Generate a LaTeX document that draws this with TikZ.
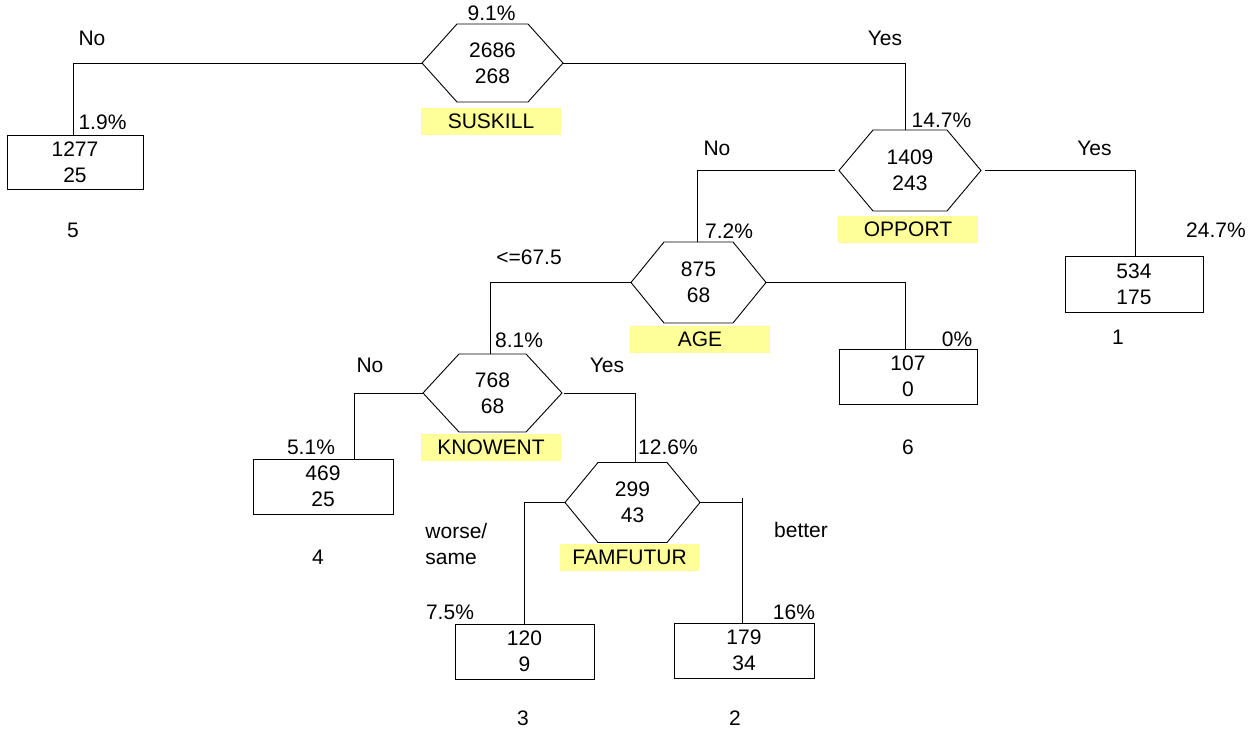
\documentclass[tikz,border=0pt]{standalone}
\usepackage{fontspec}
\setmainfont{Liberation Sans}
\definecolor{labelyellow}{RGB}{255,255,153}
\begin{document}
\begin{tikzpicture}[x=1pt,y=-1pt,
  font=\fontsize{21}{26}\selectfont,
  line width=0.9pt,
  hexnode/.style={inner sep=0pt,outer sep=0pt,align=center,minimum height=78pt},
  leafbox/.style={draw,rectangle,inner sep=0pt,outer sep=0pt,align=center,minimum width=138pt,minimum height=55pt},
  varlabel/.style={fill=labelyellow,inner sep=0pt,minimum width=140pt,minimum height=27pt},
  txt/.style={inner sep=0pt}]
\useasboundingbox (0,0) rectangle (1255,731);

% decision nodes (hexagons)
\node[hexnode,minimum width=141pt] (suskill) at (492.5,63) {2686\\268};
\node[hexnode,minimum width=142pt,minimum height=81pt] (opport) at (910,170.5) {1409\\243};
\node[hexnode,minimum width=135pt,minimum height=81pt] (age) at (698.5,282.5) {875\\68};
\node[hexnode,minimum width=139pt] (knowent) at (492.5,393) {768\\68};
\node[hexnode,minimum width=135pt,minimum height=80pt] (famfutur) at (632.5,502.5) {299\\43};
\foreach \n/\i in {suskill/35,opport/34,age/33,knowent/36,famfutur/33}
  \draw (\n.west) -- ([xshift=\i pt]\n.north west) -- ([xshift=-\i pt]\n.north east)
        -- (\n.east) -- ([xshift=-\i pt]\n.south east) -- ([xshift=\i pt]\n.south west) -- cycle;

% variable labels
\node[varlabel] (lsuskill) at (491,121) {SUSKILL};
\node[varlabel] (lopport) at (908,229.5) {OPPORT};
\node[varlabel] (lage) at (700,339) {AGE};
\node[varlabel] (lknowent) at (491,447.5) {KNOWENT};
\node[varlabel,minimum width=139pt] (lfamfutur) at (629.5,557.5) {FAMFUTUR};

% leaves
\node[leafbox,minimum width=136pt,minimum height=54pt] (box5) at (75,162) {1277\\25};
\node[leafbox,minimum height=56pt] (box1) at (1134,284) {534\\175};
\node[leafbox] (box6) at (908,376.5) {107\\0};
\node[leafbox,minimum width=140pt] (box4) at (323,486.5) {469\\25};
\node[leafbox,minimum width=139pt] (box3) at (524.5,651.5) {120\\9};
\node[leafbox,minimum width=140pt] (box2) at (744,650.5) {179\\34};

% connectors
\draw (suskill.west) -| ([xshift=-2pt]box5.north);
\draw (suskill.east) -| ([xshift=-5pt]opport.north);
\draw ([xshift=-4pt]opport.west) -| ([xshift=-1.5pt]age.north);
\draw ([xshift=4pt]opport.east) -| ([xshift=1pt]box1.north);
\draw (age.west) -| ([xshift=-2.5pt]knowent.north);
\draw (age.east) -| ([xshift=-3pt]box6.north);
\draw (knowent.west) -| ([xshift=31pt]box4.north);
\draw ([xshift=2pt]knowent.east) -| ([xshift=2.5pt]famfutur.north);
\draw (famfutur.west) -| ([xshift=-0.5pt]box3.north);
\coordinate (fr) at (742,502.5);
\draw (famfutur.east) -- (fr);
\draw ([yshift=5pt]fr) -- (fr |- box2.north);

% percentages
\node[txt] (p0) at (491.5,13) {9.1\%};
\node[txt] (p5) at (102.5,122) {1.9\%};
\node[txt] (pop) at (941.5,120) {14.7\%};
\node[txt] (p1) at (1216,230) {24.7\%};
\node[txt] (pag) at (729,231) {7.2\%};
\node[txt] (p6) at (957,339) {0\%};
\node[txt] (pkn) at (519,340) {8.1\%};
\node[txt] (p4) at (311,447) {5.1\%};
\node[txt] (pfa) at (668,447) {12.6\%};
\node[txt] (p3) at (450,612) {7.5\%};
\node[txt] (p2) at (794,612) {16\%};

% branch labels
\node[txt] (b1) at (92,38) {No};
\node[txt] (b2) at (885,38) {Yes};
\node[txt] (b3) at (717,148) {No};
\node[txt] (b4) at (1094.5,148) {Yes};
\node[txt] (b5) at (529,257) {<=67.5};
\node[txt] (b6) at (370,365) {No};
\node[txt] (b7) at (607,365) {Yes};
\node[txt,anchor=west,align=left] (b8) at (425,544) {worse/\\same};
\node[txt] (b9) at (801,530) {better};

% leaf numbers
\node[txt] (n5) at (73,230) {5};
\node[txt] (n1) at (1118,337) {1};
\node[txt] (n6) at (908,447) {6};
\node[txt] (n4) at (318,557) {4};
\node[txt] (n3) at (523,718) {3};
\node[txt] (n2) at (735,718) {2};
\end{tikzpicture}
\end{document}
